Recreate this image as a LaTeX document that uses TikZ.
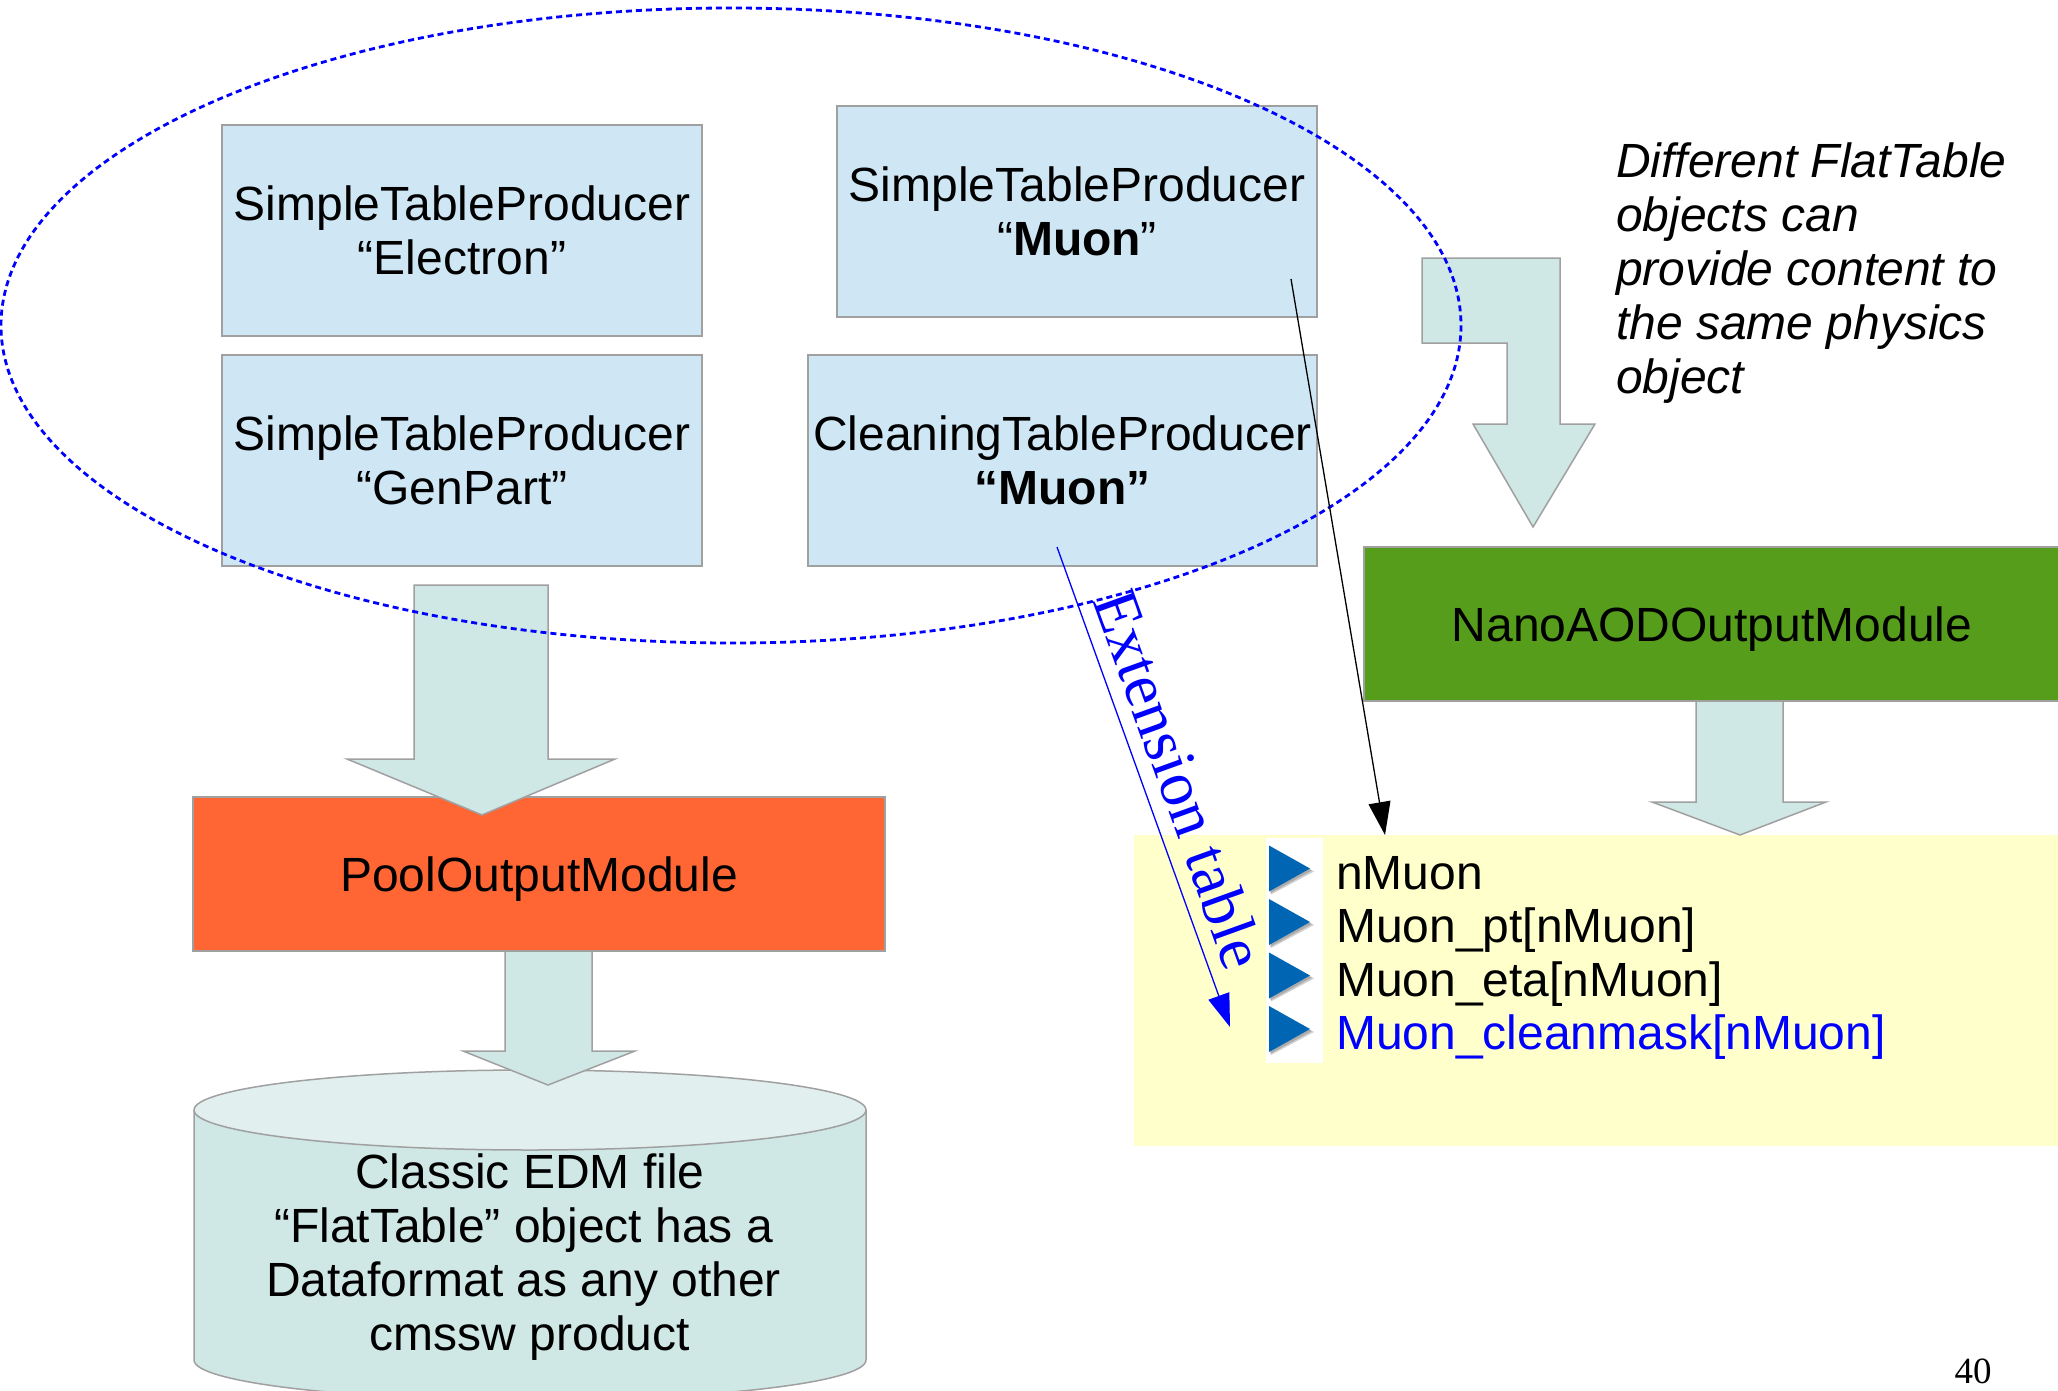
\documentclass[tikz,border=0pt]{standalone}
\usepackage{fontspec}
\setmainfont{Liberation Sans}
\newfontfamily\timesfont{Liberation Serif}
\usetikzlibrary{arrows.meta,calc}

\definecolor{prodblue}{RGB}{207,231,245}
\definecolor{blockteal}{RGB}{207,231,229}
\definecolor{captop}{RGB}{225,239,239}
\definecolor{edgegray}{RGB}{160,160,160}
\definecolor{poolorange}{RGB}{255,102,51}
\definecolor{nanogreen}{RGB}{87,157,28}
\definecolor{tableyellow}{RGB}{255,255,204}
\definecolor{bulletblue}{RGB}{0,102,179}
\definecolor{linkblue}{RGB}{0,0,255}

\tikzset{
  bigtext/.style={font=\fontsize{48}{54}\selectfont},
  prodbox/.style={bigtext, draw=edgegray, line width=1.5pt, fill=prodblue,
    align=center, minimum width=#1, minimum height=211pt},
  modbox/.style={bigtext, draw=edgegray, line width=1.5pt, minimum height=154pt,
    text height=34.5pt, text depth=0pt},
  blockarrow/.style={fill=blockteal, draw=edgegray, line width=1.5pt},
  fieldtext/.style={bigtext, anchor=base west},
  bullettri/.style={fill=bulletblue},
  bulletshadow/.style={fill=black, opacity=0.18},
  thinlink/.style={line width=1.3pt, -{Triangle[length=33pt,width=22pt]}},
}
% trailing word space kept at the end of a centred line
\newcommand{\tailspace}{\rule{13pt}{0pt}}

\begin{document}
\begin{tikzpicture}[x=1pt, y=-1pt, every node/.style={inner sep=0pt, outer sep=0pt}]
\path[use as bounding box, clip] (0,0) rectangle (2058,1391);

% ---- table producers ----
\node[prodbox=480pt] (electron)   at (462,230.5)    {SimpleTableProducer\\“Electron”};
\node[prodbox=480pt] (genpart)    at (462,460.5)    {SimpleTableProducer\\“GenPart”};
\node[prodbox=480pt] (muonsimple) at (1077,211.5)   {SimpleTableProducer\\“\textbf{Muon}”};
\node[prodbox=509pt] (cleaning)   at (1062.5,460.5) {CleaningTableProducer\\\textbf{“Muon”}};

% ---- output modules ----
\node[modbox, fill=poolorange, minimum width=692pt] (pool) at (539,874) {PoolOutputModule};
\node[modbox, fill=nanogreen,  minimum width=696pt] (nano) at (1712,624) {NanoAODOutputModule};

% ---- EDM file (cylinder) ----
\fill[blockteal] (194,1110) -- (194,1360)
  .. controls (194,1382.1) and (344.4,1400) .. (530,1400)
  .. controls (715.6,1400) and (866,1382.1) .. (866,1360) -- (866,1110) -- cycle;
\draw[edgegray, line width=1.5pt] (194,1110) -- (194,1360)
  .. controls (194,1382.1) and (344.4,1400) .. (530,1400)
  .. controls (715.6,1400) and (866,1382.1) .. (866,1360) -- (866,1110);
\draw[edgegray, line width=1.5pt, fill=captop] (530,1110) ellipse [x radius=336, y radius=40];
\node[bigtext, align=center] (edmfile) at (530,1257)
  {Classic EDM file\\“FlatTable” object has a\tailspace\\Dataformat as any other\tailspace\\cmssw product};

% ---- flat table branches ----
\node[fill=tableyellow, minimum width=926pt, minimum height=311pt] (fields) at (1597,990.5) {};
\fill[white] (1266,838) rectangle (1323,1063);
\foreach \c in {868.5,922,975.5,1029}{
  \fill[bulletshadow] (1271,\c-20) -- (1271,\c+26) -- (1314,\c+3) -- cycle;
  \fill[bulletshadow] (1270,\c-21) -- (1270,\c+25) -- (1312,\c+2) -- cycle;
  \fill[bullettri] (1269,\c-23) -- (1269,\c+23) -- (1310,\c) -- cycle;
}
\node[fieldtext] (nmuon)   at (1336,889)    {nMuon};
\node[fieldtext] (muonpt)  at (1336,942.5)  {Muon\_pt[nMuon]};
\node[fieldtext] (muoneta) at (1336,996)    {Muon\_eta[nMuon]};
\node[fieldtext, text=linkblue] (muonmask) at (1336,1049.5) {Muon\_cleanmask[nMuon]};

% ---- block arrows ----
\draw[blockarrow] (414,585) -- (548,585) -- (548,759) -- (615,759) -- (482,815)
  -- (347,759) -- (414,759) -- cycle;
\draw[blockarrow] (505,951) -- (592,951) -- (592,1051) -- (635,1051) -- (548,1085)
  -- (463,1051) -- (505,1051) -- cycle;
\draw[blockarrow] (1696,701) -- (1783,701) -- (1783,802) -- (1826,802) -- (1740,835)
  -- (1652,802) -- (1696,802) -- cycle;
\draw[blockarrow] (1422,258) -- (1560,258) -- (1560,424) -- (1595,424) -- (1533,527)
  -- (1473,424) -- (1507,424) -- (1507,343) -- (1422,343) -- cycle;

% ---- note ----
\node[font=\fontsize{48}{54}\selectfont\itshape, anchor=north west, align=left]
  (note) at (1616,142.5)
  {Different FlatTable\\objects can\\provide content to\\the same physics\\object};

% ---- group of producers feeding the same object ----
\draw[linkblue, line width=2.8pt, dash pattern=on 6pt off 4pt]
  (731,325.5) ellipse [x radius=730, y radius=317.5];

% ---- thin connectors ----
\coordinate (muonsrc) at ($(muonsimple.south east)+(-26,-38)$);
\coordinate (muondst) at ($(fields.north west)+(251,0)$);
\coordinate (extsrc)  at ($(cleaning.south west)+(249,-19)$);
\coordinate (extdst)  at ($(fields.north west)+(96,192)$);

\draw[thinlink, black] (muonsrc) -- (muondst);
\draw[thinlink, linkblue] (extsrc) --
  node[sloped, pos=0.121, anchor=base west, yshift=15pt,
       font=\timesfont\fontsize{64}{70}\selectfont, text=linkblue] (exttext) {Extension table}
  (extdst);

% ---- page number ----
\node[font=\timesfont\fontsize{37}{44}\selectfont, anchor=base] (pagenum) at (1973,1383) {40};
\end{tikzpicture}
\end{document}
